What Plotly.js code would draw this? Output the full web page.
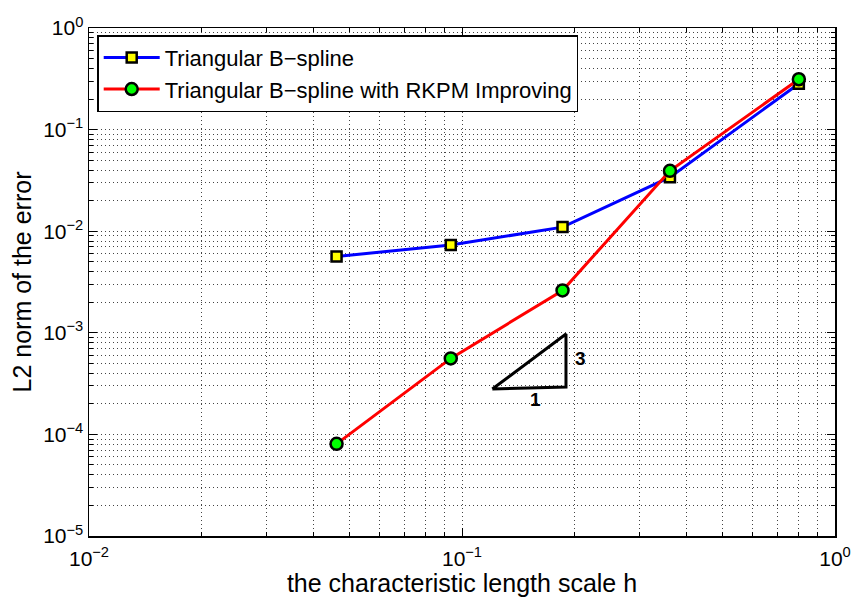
<!DOCTYPE html>
<html><head><meta charset="utf-8">
<script src="https://cdn.plot.ly/plotly-3.0.1.min.js"></script>
<style>body{margin:0;background:#fff}#c{width:852px;height:597px}</style>
</head><body><div id="c"></div>
<script>
const h = [0.0461, 0.0933, 0.186, 0.361, 0.80];
const errBspline = [5.64e-3, 7.30e-3, 1.097e-2, 3.40e-2, 0.283];
const errRKPM = [8.07e-5, 5.60e-4, 2.61e-3, 3.93e-2, 0.313];
const triX = [0.1206, 0.190, 0.190, 0.1206];
const triY = [2.80e-4, 9.73e-4, 2.93e-4, 2.80e-4];
const seriesNames = ['Triangular B\u2212spline', 'Triangular B\u2212spline with RKPM Improving'];
const slopeText = ['3', '1'];
const slopeX = [0.2079, 0.157];
const slopeY = [5.56e-4, 2.2e-4];
const xTickVals = [0.01, 0.1, 1];
const xTickText = ['10<sup>\u22122</sup>', '10<sup>\u22121</sup>', '10<sup>0</sup>'];
const yTickVals = [1e-5, 1e-4, 1e-3, 1e-2, 1e-1, 1];
const yTickText = ['10<sup>\u22125</sup>', '10<sup>\u22124</sup>', '10<sup>\u22123</sup>', '10<sup>\u22122</sup>', '10<sup>\u22121</sup>', '10<sup>0</sup>'];

const font = '"Liberation Sans", Arial, sans-serif';
const traces = [
  {x:h, y:errBspline, name:seriesNames[0], mode:'lines+markers', type:'scatter',
   line:{color:'#0000ff', width:3},
   marker:{symbol:'square', size:10, color:'#ffff00', line:{color:'#000', width:2.5}}},
  {x:h, y:errRKPM, name:seriesNames[1], mode:'lines+markers', type:'scatter',
   line:{color:'#ff0000', width:3},
   marker:{symbol:'circle', size:12, color:'#00ff00', line:{color:'#000', width:2.5}}},
  {x:triX, y:triY, mode:'lines', type:'scatter', showlegend:false,
   line:{color:'#000', width:3}, hoverinfo:'skip'}
];
const gridDash = '1px,3px';
function axis(extra) {
  return Object.assign({
    type:'log', showline:true, linecolor:'#000', linewidth:1.5, mirror:'allticks',
    ticks:'inside', ticklen:8, tickcolor:'#000', tickwidth:1,
    showgrid:true, gridcolor:'#444', griddash:gridDash, gridwidth:1,
    tickmode:'array', zeroline:false,
    tickfont:{family:font, size:21, color:'#000'},
    minor:{dtick:'D1', ticks:'inside', ticklen:4, tickcolor:'#000', showgrid:true, gridcolor:'#444', griddash:gridDash, gridwidth:1}
  }, extra);
}
const layout = {
  width:852, height:597, paper_bgcolor:'#fff', plot_bgcolor:'#fff',
  margin:{l:89, r:17, t:28, b:61},
  font:{family:font, color:'#000'},
  xaxis:axis({range:[-2,0], tickvals:xTickVals, ticktext:xTickText, ticklabelstandoff:3,
    title:{text:'the characteristic length scale h', font:{family:font, size:25, color:'#000'}, standoff:3}}),
  yaxis:axis({range:[-5,0], tickvals:yTickVals, ticktext:yTickText,
    title:{text:'L2 norm of the error', font:{family:font, size:25, color:'#000'}, standoff:4}}),
  legend:{x:0.011, y:0.986, xanchor:'left', yanchor:'top', bgcolor:'#fff',
    bordercolor:'#000', borderwidth:1.5, font:{family:font, size:22, color:'#000'},
    tracegroupgap:0, itemwidth:56},
  annotations: slopeText.map((t, i) => ({x:Math.log10(slopeX[i]), y:Math.log10(slopeY[i]), xref:'x', yref:'y',
    text:'<b>'+t+'</b>', showarrow:false, font:{family:font, size:19, color:'#000'}}))
};
Plotly.newPlot('c', traces, layout, {displayModeBar:false, staticPlot:true});
</script></body></html>
